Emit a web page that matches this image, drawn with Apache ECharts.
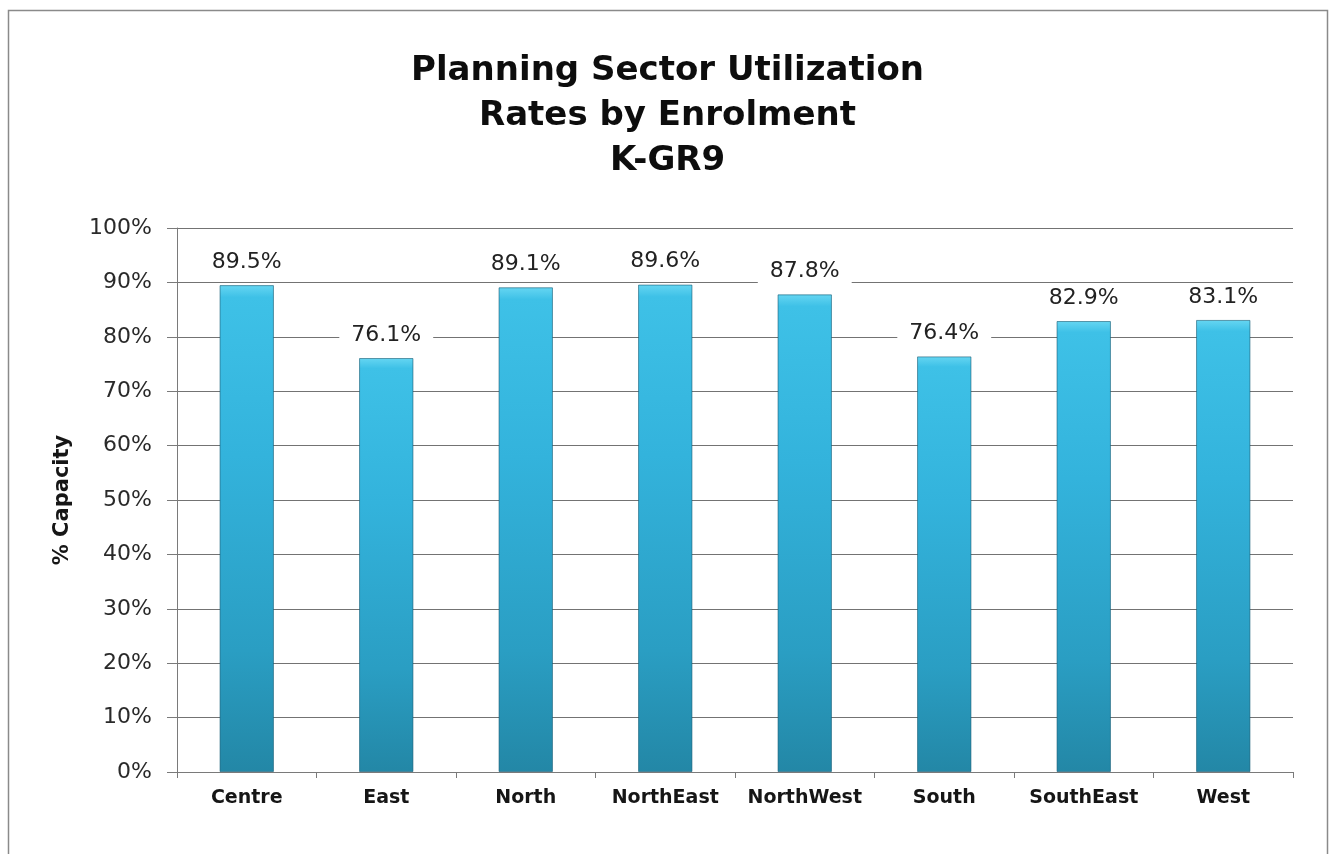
<!DOCTYPE html>
<html>
<head>
<meta charset="utf-8">
<title>Planning Sector Utilization Rates by Enrolment K-GR9</title>
<script src="https://cdn.jsdelivr.net/npm/echarts@6/dist/echarts.min.js"></script>
<style>
  html, body { margin: 0; padding: 0; background: #ffffff; }
  #chart { width: 1335px; height: 854px; }
</style>
</head>
<body>
<div id="chart"></div>
<script>
// Planning sectors and their K-GR9 utilization (% of capacity)
const sectors = ['Centre', 'East', 'North', 'NorthEast', 'NorthWest', 'South', 'SouthEast', 'West'];
const utilization = [89.5, 76.1, 89.1, 89.6, 87.8, 76.4, 82.9, 83.1];
const titleLines = ['Planning Sector Utilization', 'Rates by Enrolment', 'K-GR9'];
const yAxisTitle = '% Capacity';

const FONT = '"DejaVu Sans", "Liberation Sans", Arial, sans-serif';

const chart = echarts.init(document.getElementById('chart'), null, { renderer: 'canvas' });

// vertical shading of the columns: bright cap, cyan body, deeper teal base
const barFill = new echarts.graphic.LinearGradient(0, 0, 0, 1, [
  { offset: 0, color: '#66d6f2' },
  { offset: 0.025, color: '#3ec1e7' },
  { offset: 0.35, color: '#33b3dc' },
  { offset: 0.75, color: '#2a9ec3' },
  { offset: 1, color: '#2387a6' }
]);

chart.setOption({
  backgroundColor: '#ffffff',
  animation: false,
  title: {
    text: titleLines.join('\n'),
    left: 'center',
    top: 44,
    textStyle: {
      fontFamily: FONT,
      fontWeight: 'bold',
      fontSize: 34,
      lineHeight: 45,
      color: '#0d0d0d'
    }
  },
  graphic: [
    {
      type: 'rect',
      shape: { x: 8.5, y: 10.5, width: 1319, height: 900 },
      style: { fill: 'none', stroke: '#8a8a8a', lineWidth: 1.5 },
      silent: true,
      z: -1
    }
  ],
  grid: { left: 177, right: 42, top: 228, bottom: 82, containLabel: false },
  xAxis: {
    type: 'category',
    data: sectors,
    boundaryGap: true,
    axisLine: { show: true, lineStyle: { color: '#7a7a7a', width: 1 } },
    axisTick: { show: true, interval: 0, alignWithLabel: false, length: 6, inside: false, lineStyle: { color: '#7a7a7a' } },
    axisLabel: {
      interval: 0,
      hideOverlap: false,
      margin: 17,
      fontFamily: FONT,
      fontWeight: 'bold',
      fontSize: 19,
      color: '#161616'
    },
    splitLine: { show: false }
  },
  yAxis: {
    type: 'value',
    min: 0,
    max: 100,
    interval: 10,
    name: yAxisTitle,
    nameLocation: 'middle',
    nameRotate: 90,
    nameGap: 104,
    nameTextStyle: {
      fontFamily: FONT,
      fontWeight: 'bold',
      fontSize: 21,
      color: '#161616'
    },
    axisLine: { show: true, lineStyle: { color: '#7a7a7a', width: 1 } },
    axisTick: { show: true, length: 10, inside: false, lineStyle: { color: '#7a7a7a' } },
    axisLabel: {
      margin: 25,
      fontFamily: FONT,
      fontSize: 22,
      color: '#2a2a2a',
      formatter: v => v + '%'
    },
    splitLine: { show: true, lineStyle: { color: '#737373', width: 1 } }
  },
  series: [
    {
      type: 'bar',
      data: utilization,
      barWidth: '39%',
      itemStyle: {
        color: barFill,
        borderColor: 'rgba(18, 90, 115, 0.6)',
        borderWidth: 1
      },
      label: {
        show: true,
        position: 'top',
        distance: 11,
        formatter: p => p.value.toFixed(1) + '%',
        fontFamily: FONT,
        fontSize: 22,
        color: '#222222',
        backgroundColor: '#ffffff',
        padding: [2, 12, 1, 12]
      }
    }
  ]
});
</script>
</body>
</html>
